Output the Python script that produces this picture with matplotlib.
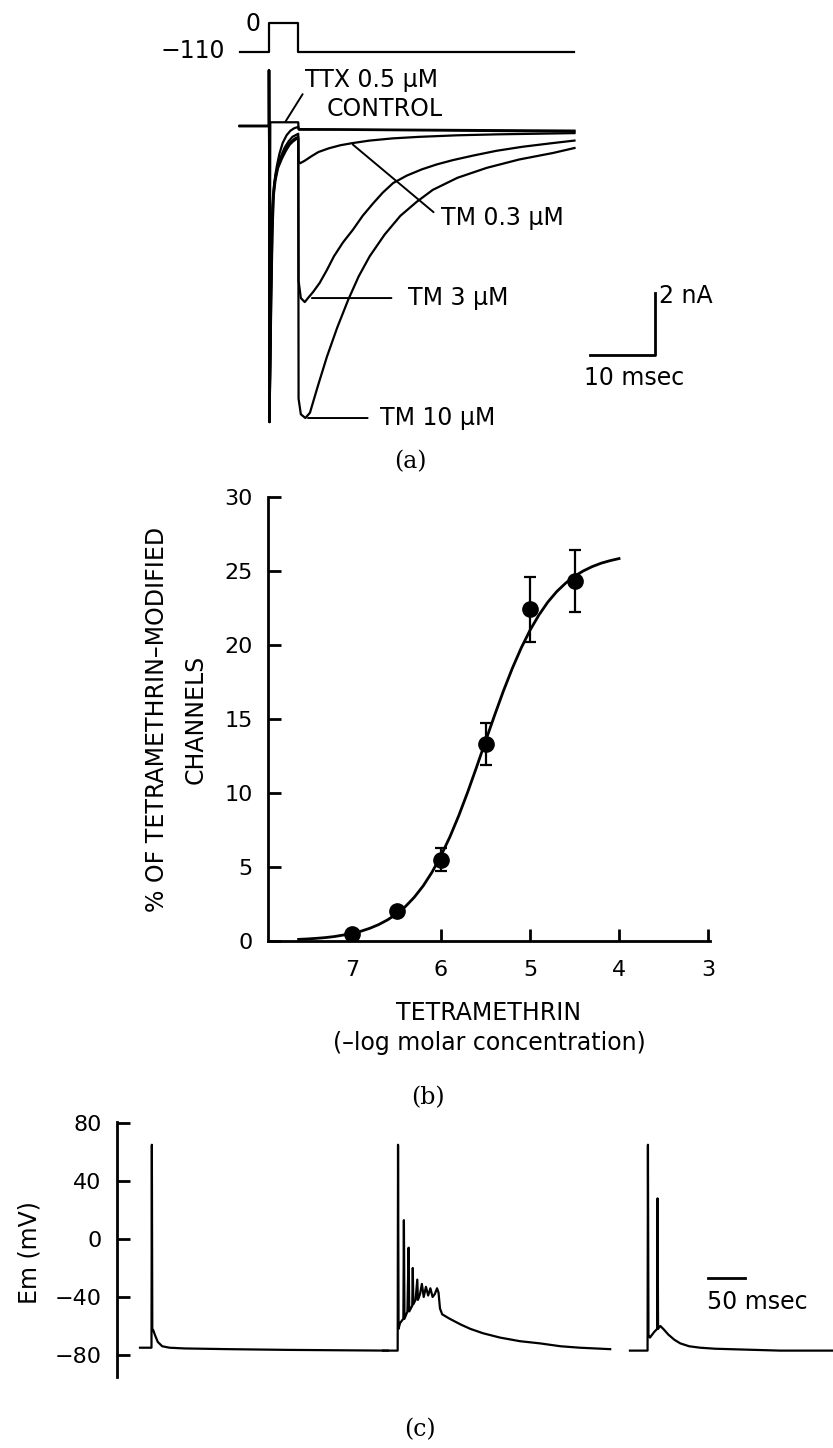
import matplotlib
matplotlib.use('Agg')
import matplotlib.pyplot as plt

W, H = 833, 1448

# ─── (a) voltage protocol (ms, mV) ──────────────────────────────────────
prot_t = [-4.5, 0, 0, 4.5, 4.5, 47]
prot_v = [-110, -110, 0, 0, -110, -110]

# ─── (a) sodium currents (ms, nA) ───────────────────────────────────────
ttx_t = [-4.5, 0, 0, 0.08, 0.2, 4.5, 4.55, 47]
ttx_i = [0, 0, 1.8, -9.55, 0.12, 0.12, -0.1, -0.15]

ctrl_t = [-4.5, 0, 0, 0.08, 0.15, 0.25, 0.35, 0.45, 0.6, 0.8, 1.0, 1.2, 1.6, 2.1,
          2.7, 3.3, 3.9, 4.5, 4.6, 10, 47]
ctrl_i = [0, 0, 1.8, -9.55, -8.0, -6.0, -4.3, -3.0, -2.3, -1.85, -1.55, -1.3,
          -0.9, -0.55, -0.3, -0.15, -0.07, -0.03, -0.12, -0.12, -0.18]

tm03_t = [-4.5, 0, 0, 0.08, 0.18, 0.3, 0.42, 0.55, 0.75, 1.0, 1.4, 1.9, 2.4, 3.0,
          3.6, 4.5, 4.55, 4.8, 5.5, 6.5, 7.6, 9.2, 11, 12.9, 15.5, 19, 23.1, 29,
          35, 41, 47]
tm03_i = [0, 0, 1.8, -9.55, -7.8, -5.5, -3.8, -2.6, -2.0, -1.6, -1.25, -0.95,
          -0.7, -0.5, -0.35, -0.25, -1.15, -1.2, -1.12, -0.98, -0.84, -0.72, -0.62,
          -0.55, -0.47, -0.4, -0.35, -0.3, -0.27, -0.25, -0.23]

tm3_t = [-4.5, 0, 0, 0.08, 0.2, 0.35, 0.5, 0.65, 0.9, 1.2, 1.7, 2.2, 2.8, 3.4,
         4.0, 4.5, 4.55, 4.9, 5.5, 6.0, 6.8, 7.8, 8.9, 10, 11.4, 12.9, 14.4, 16,
         17.5, 19.1, 21.2, 23.5, 25.8, 28.3, 31.5, 35, 39, 43.7, 47]
tm3_i = [0, 0, 1.8, -9.55, -7.6, -5.2, -3.5, -2.3, -1.8, -1.45, -1.1, -0.85,
         -0.65, -0.5, -0.4, -0.35, -5.0, -5.55, -5.68, -5.55, -5.35, -5.06, -4.65,
         -4.2, -3.75, -3.35, -2.9, -2.5, -2.15, -1.84, -1.6, -1.4, -1.24, -1.1,
         -0.95, -0.8, -0.67, -0.55, -0.47]

tm10_t = [-4.5, 0, 0, 0.08, 0.22, 0.4, 0.55, 0.75, 1.0, 1.4, 2.0, 2.6, 3.2, 3.7,
          4.2, 4.5, 4.55, 4.9, 5.6, 6.3, 7.5, 8.9, 10.5, 12.2, 13.8, 15.5, 17.8,
          20.2, 22.7, 25.2, 29, 33.5, 38.5, 43.7, 47]
tm10_i = [0, 0, 1.8, -9.55, -7.4, -5.0, -3.3, -2.2, -1.75, -1.35, -1.05, -0.8,
          -0.6, -0.5, -0.42, -0.4, -8.8, -9.3, -9.42, -9.25, -8.4, -7.45, -6.5,
          -5.6, -4.85, -4.2, -3.5, -2.9, -2.45, -2.06, -1.67, -1.35, -1.08, -0.87,
          -0.71]

# ─── (b) dose–response ──────────────────────────────────────────────────
dose = [7, 6.5, 6, 5.5, 5, 4.5]
pct = [0.5, 2.0, 5.5, 13.3, 22.4, 24.3]
pct_err = [0, 0, 0.8, 1.4, 2.2, 2.1]

fit_x = [7.6, 7.5, 7.4, 7.3, 7.2, 7.1, 7.0, 6.9, 6.8, 6.7, 6.6, 6.5, 6.4, 6.3,
         6.2, 6.1, 6.0, 5.9, 5.8, 5.7, 5.6, 5.5, 5.4, 5.3, 5.2, 5.1, 5.0, 4.9,
         4.8, 4.7, 4.6, 4.5, 4.4, 4.3, 4.2, 4.1, 4.0]
fit_y = [0.11, 0.14, 0.18, 0.23, 0.30, 0.40, 0.51, 0.66, 0.86, 1.11, 1.43, 1.83,
         2.33, 2.96, 3.73, 4.66, 5.77, 7.04, 8.48, 10.07, 11.76, 13.50, 15.22,
         16.88, 18.41, 19.79, 21.0, 22.03, 22.9, 23.61, 24.18, 24.65, 25.01,
         25.30, 25.53, 25.70, 25.84]

# ─── (c) action potentials (ms from trace start, mV) ────────────────────
ap1_t = [0, 15.5, 16.0, 16.6, 18, 20, 24, 30, 40, 60, 120, 200, 335]
ap1_v = [-75, -75, 65, -62, -63, -66, -71, -74, -75, -75.5, -76, -76.5, -77]

ap2_t = [0, 19.8, 20.3, 21.0, 23, 27.5, 28.2, 29.0, 33, 34.6, 35.4, 39.5, 40.2,
         41.0, 44, 46.3, 47.2, 50, 52.5, 55, 58, 61, 64, 67, 70, 73, 75, 77, 80,
         90, 105, 118, 135, 158, 185, 212, 240, 266, 307]
ap2_v = [-77, -77, 65, -62, -58, -55, 13, -55, -50, -6, -50, -46, -20, -45, -42,
         -28, -42, -38, -31, -40, -33, -39, -34, -40, -38, -34, -37, -48, -52,
         -55, -59, -62, -65, -68, -70.5, -72, -74, -75, -76]

ap3_t = [0, 23.8, 24.3, 25.0, 27, 33, 36.8, 37.3, 38.0, 41, 45, 52, 60, 68, 80,
         95, 115, 135, 203, 274]
ap3_v = [-77, -77, 65, -66, -68, -64, -62, 28, -62, -60, -62, -66, -69.5, -72,
         -74, -75, -75.7, -76, -77, -77]

ap_offsets = [31.1, 359.5, 693.2]  # where each sweep sits along the time axis

# ─── Figure ─────────────────────────────────────────────────────────────
fig = plt.figure(figsize=(W / 100, H / 100), dpi=100, facecolor='white')
plt.rcParams['font.family'] = ['DejaVu Sans']


def px_axes(l, t, r, b):
    return fig.add_axes([l / W, 1 - b / H, (r - l) / W, (b - t) / H])


def ftext(x, y, s, **kw):
    fig.text(x / W, 1 - y / H, s, **kw)


LW = 1.6
FS = 17     # labels
TS = 16     # tick labels

# ─── Panel (a) ──────────────────────────────────────────────────────────
axp = px_axes(200, 0, 760, 60)
axp.set_xlim(-10.615, 75.54)
axp.set_ylim(-140.3, 87.2)
axp.axis('off')
axp.plot(prot_t, prot_v, color='black', lw=LW)
axp.text(-2.4, -5, '0', ha='center', va='center', fontsize=FS)
axp.text(-6.8, -108, '\u2212110', ha='right', va='center', fontsize=FS)

axa = px_axes(200, 40, 760, 440)
axa.set_xlim(-10.615, 75.54)
axa.set_ylim(-10.129, 2.774)
axa.axis('off')
for t, i in [(ttx_t, ttx_i), (ctrl_t, ctrl_i), (tm03_t, tm03_i),
             (tm3_t, tm3_i), (tm10_t, tm10_i)]:
    axa.plot(t, i, color='black', lw=LW, solid_joinstyle='round')

arrow = dict(arrowstyle='-', color='black', lw=1.4, shrinkB=0)
axa.annotate('TTX 0.5 \u03bcM', xy=(2.5, 0.13), xytext=(5.6, 1.48),
             ha='left', va='center', fontsize=FS,
             arrowprops=dict(arrow, relpos=(0, 0.1), shrinkA=0))
axa.text(8.9, 0.55, 'CONTROL', ha='left', va='center', fontsize=FS)
axa.annotate('TM 0.3 \u03bcM', xy=(12.9, -0.6), xytext=(26.4, -2.97),
             ha='left', va='center', fontsize=FS,
             arrowprops=dict(arrow, relpos=(0, 0.5), shrinkA=4))
axa.annotate('TM 3 \u03bcM', xy=(6.6, -5.55), xytext=(21.4, -5.55),
             ha='left', va='center', fontsize=FS,
             arrowprops=dict(arrow, relpos=(0, 0.5), shrinkA=10))
axa.annotate('TM 10 \u03bcM', xy=(6.0, -9.42), xytext=(17.1, -9.42),
             ha='left', va='center', fontsize=FS,
             arrowprops=dict(arrow, relpos=(0, 0.5), shrinkA=7))

# scale bars: 10 msec, 2 nA
bar_ms, bar_na = 10, 2
bx, by = 59.4, -7.39
axa.plot([bx - bar_ms, bx, bx], [by, by, by + bar_na], color='black', lw=2)
axa.text(bx + 0.6, by + bar_na - 0.1, '2 nA', ha='left', va='center', fontsize=FS)
axa.text(bx - bar_ms - 1.0, by - 0.75, '10 msec', ha='left', va='center', fontsize=FS)

ftext(410, 462, '(a)', ha='center', va='center', fontsize=17, family='DejaVu Serif')

# ─── Panel (b) ──────────────────────────────────────────────────────────
axb = px_axes(268, 497, 710, 941)
axb.plot(fit_x, fit_y, color='black', lw=2)
axb.errorbar(dose, pct, yerr=pct_err, fmt='o', color='black', ms=11,
             capsize=4.5, elinewidth=1.6, capthick=1.6)
axb.set_xlim(7.944, 2.978)
axb.set_ylim(0, 30)
axb.set_xticks([7, 6, 5, 4, 3])
axb.set_yticks([0, 5, 10, 15, 20, 25, 30])
for s in ['top', 'right']:
    axb.spines[s].set_visible(False)
for s in ['left', 'bottom']:
    axb.spines[s].set_linewidth(2)
axb.tick_params(axis='both', direction='in', length=9, width=2, labelsize=TS)
axb.tick_params(axis='y', pad=11)
axb.tick_params(axis='x', pad=14)
axb.patch.set_visible(False)

ftext(157, 719, '% OF TETRAMETHRIN\u2013MODIFIED', rotation=90,
      ha='center', va='center', fontsize=FS)
ftext(196, 719, 'CHANNELS', rotation=90, ha='center', va='center', fontsize=FS)
ftext(489, 1013, 'TETRAMETHRIN', ha='center', va='center', fontsize=FS)
ftext(489, 1043, '(\u2013log molar concentration)', ha='center', va='center', fontsize=FS)
ftext(428, 1098, '(b)', ha='center', va='center', fontsize=17, family='DejaVu Serif')

# ─── Panel (c) ──────────────────────────────────────────────────────────
axc = px_axes(117, 1122, 833, 1377)
for (t, v), off in zip([(ap1_t, ap1_v), (ap2_t, ap2_v), (ap3_t, ap3_v)], ap_offsets):
    axc.plot([x + off for x in t], v, color='black', lw=LW, solid_joinstyle='round')
axc.set_xlim(0, 967.6)
axc.set_ylim(-95.2, 80.7)
axc.set_yticks([80, 40, 0, -40, -80])
axc.set_yticklabels(['80', '40', '0', '\u221240', '\u221280'])
axc.set_xticks([])
for s in ['top', 'right', 'bottom']:
    axc.spines[s].set_visible(False)
axc.spines['left'].set_linewidth(2)
axc.tick_params(axis='y', direction='in', length=9, width=2, labelsize=TS, pad=11)
axc.patch.set_visible(False)

# 50 msec scale bar
sb_ms = 50
axc.plot([798.6, 798.6 + sb_ms], [-26.9, -26.9], color='black', lw=2)
axc.text(797, -43.5, '50 msec', ha='left', va='center', fontsize=FS)

ftext(30, 1253, 'Em (mV)', rotation=90, ha='center', va='center', fontsize=FS)
ftext(420, 1430, '(c)', ha='center', va='center', fontsize=17, family='DejaVu Serif')

fig.savefig('out.png', dpi=100, facecolor='white')
